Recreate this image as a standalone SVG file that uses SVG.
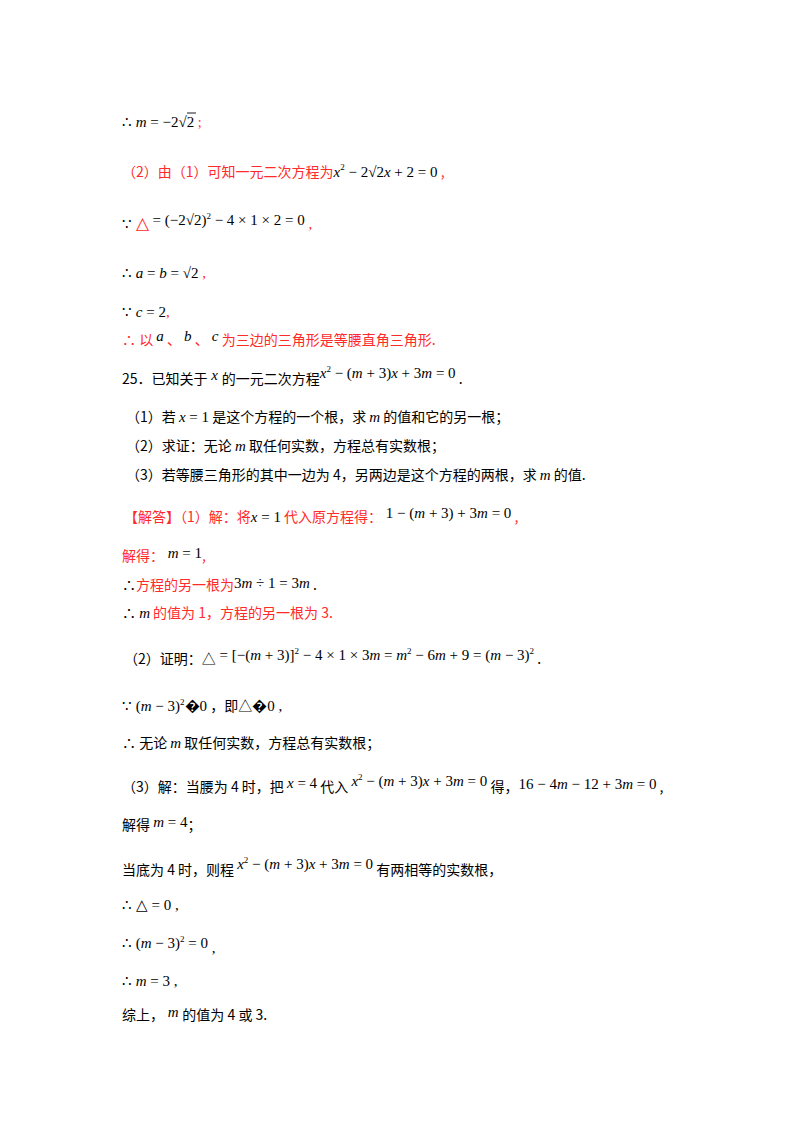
<svg xmlns="http://www.w3.org/2000/svg" width="800" height="1132" viewBox="0 0 800 1132">
<style>
text{font-family:"Noto Sans CJK SC","Liberation Serif",serif;font-size:14px;fill:#000}
.r{fill:#ff2a2a}
.m{font-family:"Liberation Serif",serif;font-size:15px}
.i{font-style:italic}
.s{font-family:"Liberation Serif",serif;font-size:9px}
line{stroke:#000;stroke-width:0.9}
</style>
<rect width="800" height="1132" fill="#fff"/>
<text x="122" y="127" class="m">∴ <tspan class="i">m</tspan> = −2√2<tspan class="r" font-size="14"> ;</tspan></text>
<line x1="187" y1="113" x2="196" y2="113"/>
<text x="122" y="177" class="r">（2）由（1）可知一元二次方程为<tspan class="m i" fill="#000">x</tspan><tspan class="s" fill="#000" dy="-7">2</tspan><tspan class="m" fill="#000" dy="7"> − 2√2<tspan class="i">x</tspan> + 2 = 0</tspan> ,</text>
<text x="122" y="229" class="m">∵ <tspan class="r" font-size="17">△</tspan><tspan dy="-4"> = (−2√2)</tspan><tspan class="s" dy="-6">2</tspan><tspan dy="6"> − 4 × 1 × 2 = 0</tspan><tspan class="r" dy="4"> ,</tspan></text>
<text x="122" y="278" class="m">∴ <tspan class="i">a</tspan> = <tspan class="i">b</tspan> = √2<tspan class="r"> ,</tspan></text>
<text x="122" y="317" class="m">∵ <tspan class="i">c</tspan> = 2<tspan class="r">,</tspan></text>
<text x="122" y="345" class="r">∴ 以 <tspan class="m i" fill="#000" dy="-4">a</tspan><tspan dy="4"> 、 </tspan><tspan class="m i" fill="#000" dy="-4">b</tspan><tspan dy="4"> 、 </tspan><tspan class="m i" fill="#000" dy="-4">c</tspan><tspan dy="4"> 为三边的三角形是等腰直角三角形.</tspan></text>
<text x="122" y="384">25．已知关于<tspan class="m i" dy="-4"> x </tspan><tspan dy="4">的一元二次方程</tspan><tspan class="m i" dy="-6">x</tspan><tspan class="s" dy="-6">2</tspan><tspan class="m" dy="6"> − (<tspan class="i">m</tspan> + 3)<tspan class="i">x</tspan> + 3<tspan class="i">m</tspan> = 0</tspan><tspan dy="6"> .</tspan></text>
<text x="126" y="422">（1）若 <tspan class="m"><tspan class="i">x</tspan> = 1</tspan> 是这个方程的一个根，求 <tspan class="m i">m</tspan> 的值和它的另一根；</text>
<text x="126" y="451">（2）求证：无论 <tspan class="m i">m</tspan> 取任何实数，方程总有实数根；</text>
<text x="126" y="480">（3）若等腰三角形的其中一边为 4，另两边是这个方程的两根，求 <tspan class="m i">m</tspan> 的值.</text>
<text x="124" y="522" class="r">【解答】（1）解：将<tspan class="m" fill="#000"><tspan class="i">x</tspan> = 1</tspan> 代入原方程得：<tspan class="m" fill="#000" dy="-4"> 1 − (<tspan class="i">m</tspan> + 3) + 3<tspan class="i">m</tspan> = 0</tspan><tspan dy="4"> ,</tspan></text>
<text x="122" y="561" class="r">解得：<tspan class="m" fill="#000" dy="-3"> <tspan class="i">m</tspan> = 1</tspan><tspan dy="3">,</tspan></text>
<text x="122" y="590" class="r"><tspan fill="#000">∴</tspan>方程的另一根为<tspan class="m" fill="#000" dy="-2">3<tspan class="i">m</tspan> ÷ 1 = 3<tspan class="i">m</tspan></tspan><tspan fill="#000" dy="2"> .</tspan></text>
<text x="122" y="618" class="r"><tspan fill="#000">∴ </tspan><tspan class="m i" fill="#000">m</tspan> 的值为 1，方程的另一根为 3.</text>
<text x="124" y="664">（2）证明：△<tspan class="m" dy="-4"> = [−(<tspan class="i">m</tspan> + 3)]</tspan><tspan class="s" dy="-6">2</tspan><tspan class="m" dy="6"> − 4 × 1 × 3<tspan class="i">m</tspan> = <tspan class="i">m</tspan></tspan><tspan class="s" dy="-6">2</tspan><tspan class="m" dy="6"> − 6<tspan class="i">m</tspan> + 9 = (<tspan class="i">m</tspan> − 3)</tspan><tspan class="s" dy="-6">2</tspan><tspan dy="10"> .</tspan></text>
<text x="122" y="711" class="m">∵ (<tspan class="i">m</tspan> − 3)<tspan class="s" dy="-6">2</tspan><tspan dy="6">�0</tspan><tspan font-family="Noto Sans CJK SC" font-size="14"> ，即△</tspan>�0 ,</text>
<text x="122" y="748">∴ 无论 <tspan class="m i">m</tspan> 取任何实数，方程总有实数根；</text>
<text x="122" y="792">（3）解：当腰为 4 时，把 <tspan class="m" dy="-4"><tspan class="i">x</tspan> = 4</tspan><tspan dy="4"> 代入 </tspan><tspan class="m i" dy="-6">x</tspan><tspan class="s" dy="-6">2</tspan><tspan class="m" dy="6"> − (<tspan class="i">m</tspan> + 3)<tspan class="i">x</tspan> + 3<tspan class="i">m</tspan> = 0</tspan><tspan dy="6"> 得，</tspan><tspan class="m" dy="-3">16 − 4<tspan class="i">m</tspan> − 12 + 3<tspan class="i">m</tspan> = 0</tspan><tspan dy="3"> ,</tspan></text>
<text x="122" y="830">解得 <tspan class="m" dy="-3"><tspan class="i">m</tspan> = 4</tspan><tspan dy="3">；</tspan></text>
<text x="122" y="875">当底为 4 时，则程 <tspan class="m i" dy="-6">x</tspan><tspan class="s" dy="-6">2</tspan><tspan class="m" dy="6"> − (<tspan class="i">m</tspan> + 3)<tspan class="i">x</tspan> + 3<tspan class="i">m</tspan> = 0</tspan><tspan dy="6"> 有两相等的实数根，</tspan></text>
<text x="122" y="910" class="m">∴ △ = 0 ,</text>
<text x="122" y="948" class="m">∴ (<tspan class="i">m</tspan> − 3)<tspan class="s" dy="-6">2</tspan><tspan dy="6"> = 0</tspan><tspan dy="5"> ,</tspan></text>
<text x="122" y="986" class="m">∴ <tspan class="i">m</tspan> = 3 ,</text>
<text x="122" y="1020">综上，<tspan class="m i" dy="-3"> m </tspan><tspan dy="3">的值为 4 或 3.</tspan></text>
</svg>
